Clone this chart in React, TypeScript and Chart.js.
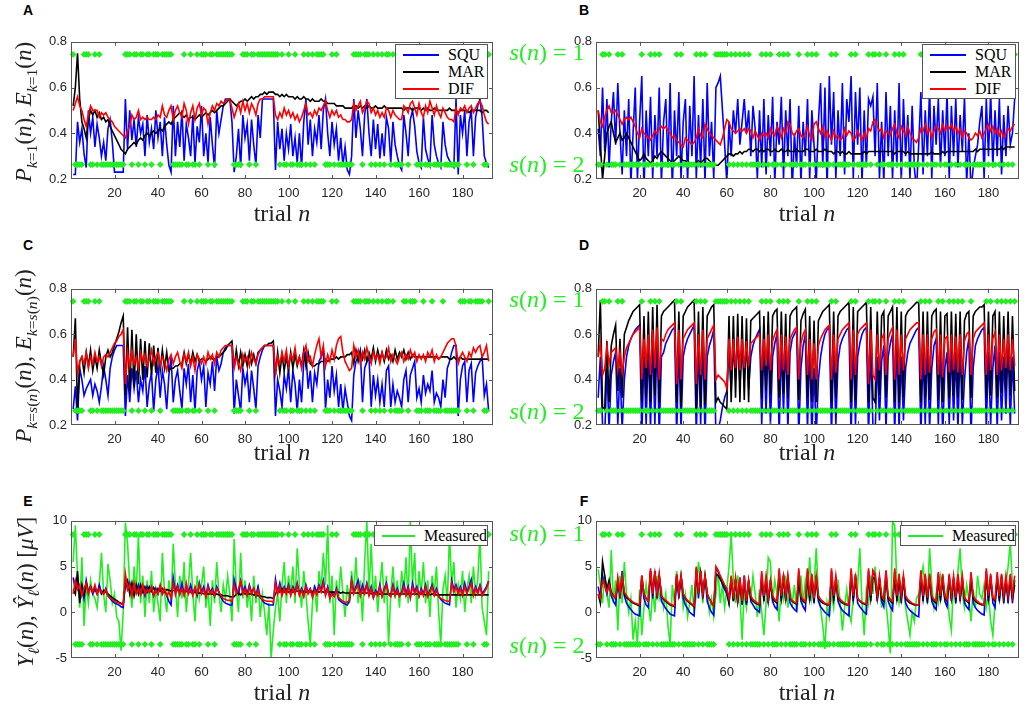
import { useEffect, useRef } from "react";
import Chart from "chart.js/auto";

// trial-by-trial stimulus state s(n): 1 = upper diamonds, 2 = lower diamonds
const sLeft = [
  1,2,2,2,2,1,1,1,2,2, 1,2,1,2,2,2,2,2,2,2, 2,2,2,2,1,1,1,2,1,1, 2,1,1,2,1,1,2,1,1,1,
  2,1,1,1,1,1,2,2,2,2, 2,1,2,2,1,2,2,1,2,1, 1,1,2,1,1,2,1,1,1,1, 1,1,1,1,2,2,2,2,1,1,
  1,2,1,1,2,1,1,1,1,1, 1,1,1,1,1,2,1,2,2,1, 2,2,1,2,2,2,1,2,1,2, 1,2,1,1,1,1,2,2,2,1,
  2,1,2,2,2,2,2,2,2,1, 1,1,1,2,1,1,1,2,1,2, 1,2,1,2,1,1,2,1,2,2, 2,2,1,1,2,1,1,1,2,2,
  2,1,2,2,2,1,2,2,2,2, 1,2,2,2,2,2,2,2,1,1, 1,2,1,1,2,1,1,1,1,2, 2,1];
const sRight = [
  2,2,1,1,2,1,2,2,2,1, 2,1,2,2,2,2,2,2,2,2, 1,2,2,2,1,2,1,2,1,2, 2,2,2,2,2,2,1,2,1,2,
  2,2,2,2,2,1,2,1,2,1, 2,2,2,2,1,1,1,1,1,1, 2,1,2,1,2,1,2,1,2,1, 2,2,2,2,2,1,2,1,2,1,
  2,2,2,1,2,1,2,1,2,2, 2,2,1,2,2,2,1,2,1,2, 1,2,2,2,2,2,2,1,2,1, 2,2,2,2,2,2,1,2,1,2,
  2,2,2,2,1,2,1,1,2,1, 2,2,1,2,2,2,1,2,1,2, 1,2,2,2,2,2,2,2,1,2, 1,2,1,2,2,2,1,2,1,2,
  2,1,2,1,2,1,2,1,2,2, 2,1,2,2,2,2,2,2,1,2, 1,2,2,1,2,1,2,1,2,1, 2,1];

// A: P_{k=1}(n), E_{k=1}(n)
const aSqu = [
  .22,.22,.45,.36,.42,.31,.25,.50,.40,.47, .34,.44,.38,.30,.36,.28,.42,.46,.36,.23,
  .23,.23,.23,.23,.55,.33,.50,.37,.46,.34, .47,.40,.44,.30,.48,.36,.42,.33,.50,.38,
  .45,.30,.47,.35,.26,.23,.52,.30,.45,.34, .50,.28,.44,.38,.30,.48,.27,.43,.36,.52,
  .30,.40,.27,.47,.35,.25,.50,.40,.46,.52, .55,.55,.55,.45,.23,.30,.42,.25,.48,.38,
  .44,.28,.46,.35,.26,.48,.38,.55,.55,.55, .55,.55,.55,.24,.45,.33,.42,.28,.40,.33,
  .44,.30,.38,.27,.40,.25,.45,.55,.35,.46, .30,.42,.36,.48,.33,.50,.55,.40,.30,.45,
  .35,.42,.28,.38,.26,.34,.24,.22,.30,.55, .38,.50,.42,.30,.48,.55,.40,.30,.46,.33,
  .44,.29,.40,.30,.47,.42,.27,.45,.35,.30, .26,.24,.48,.40,.30,.46,.50,.43,.32,.27,
  .25,.47,.33,.29,.26,.48,.35,.30,.27,.25, .45,.35,.30,.28,.26,.25,.55,.22,.48,.40,
  .50,.30,.45,.50,.30,.47,.52,.55,.47,.30, .27,.25];
const aMar = [
  .52,.60,.75,.55,.45,.42,.38,.46,.50,.48, .50,.47,.49,.46,.47,.45,.46,.43,.41,.39,
  .37,.35,.33,.32,.31,.33,.34,.35,.36,.35, .37,.38,.37,.39,.40,.39,.40,.41,.40,.41,
  .42,.41,.43,.44,.45,.44,.46,.47,.48,.49, .48,.47,.48,.46,.47,.47,.46,.47,.48,.47,
  .48,.49,.48,.49,.50,.49,.50,.51,.52,.52, .53,.54,.55,.54,.53,.52,.53,.54,.54,.55,
  .54,.55,.56,.55,.56,.56,.57,.57,.58,.57, .58,.58,.58,.57,.57,.56,.57,.56,.57,.56,
  .56,.56,.55,.56,.55,.55,.56,.55,.55,.54, .55,.54,.54,.54,.55,.54,.54,.53,.53,.53,
  .53,.52,.52,.52,.52,.51,.51,.51,.51,.52, .52,.51,.52,.51,.52,.51,.52,.51,.51,.52,
  .51,.51,.51,.52,.51,.51,.51,.51,.51,.51, .51,.51,.50,.51,.51,.51,.50,.51,.51,.51,
  .50,.51,.50,.51,.50,.50,.51,.50,.50,.50, .50,.50,.50,.51,.50,.50,.50,.49,.50,.50,
  .50,.50,.49,.50,.50,.50,.50,.50,.49,.50, .50,.49];
const aDif = [
  .50,.53,.56,.52,.50,.46,.43,.48,.52,.50, .50,.50,.47,.49,.48,.49,.47,.46,.45,.43,
  .42,.41,.40,.39,.38,.41,.43,.48,.46,.47, .50,.46,.47,.46,.47,.46,.46,.47,.46,.48,
  .47,.52,.48,.47,.50,.52,.46,.50,.52,.49, .47,.53,.50,.44,.49,.52,.46,.51,.53,.48,
  .51,.50,.44,.49,.52,.50,.53,.52,.54,.53, .54,.55,.55,.51,.47,.50,.53,.49,.54,.50,
  .53,.49,.53,.51,.48,.53,.55,.55,.56,.56, .56,.56,.56,.48,.46,.49,.47,.51,.48,.50,
  .47,.49,.46,.48,.45,.47,.50,.53,.48,.49, .47,.50,.48,.51,.50,.52,.54,.50,.47,.50,
  .48,.50,.47,.48,.46,.46,.45,.45,.46,.53, .50,.52,.54,.49,.51,.54,.53,.49,.51,.48,
  .50,.47,.49,.47,.51,.50,.47,.50,.48,.47, .46,.46,.52,.51,.49,.53,.54,.51,.48,.53,
  .49,.47,.52,.49,.54,.51,.48,.52,.49,.47, .51,.49,.47,.46,.46,.45,.51,.48,.51,.50,
  .52,.49,.51,.52,.49,.51,.53,.54,.52,.48, .45,.44];

// B
const bSqu = [
  .42,.30,.60,.32,.55,.25,.45,.58,.35,.62, .40,.22,.50,.30,.55,.18,.40,.60,.20,.45,
  .65,.15,.50,.30,.56,.20,.48,.30,.60,.18, .45,.55,.25,.62,.15,.50,.30,.58,.20,.45,
  .55,.18,.52,.30,.65,.20,.48,.25,.55,.18, .62,.30,.45,.20,.60,.62,.65,.50,.35,.18,
  .45,.30,.50,.40,.55,.35,.45,.55,.40,.50, .30,.52,.42,.20,.50,.25,.55,.22,.48,.30,
  .56,.18,.45,.35,.56,.20,.50,.30,.55,.15, .40,.25,.52,.18,.45,.30,.55,.20,.50,.35,
  .18,.45,.62,.25,.60,.15,.65,.35,.58,.20, .50,.30,.62,.22,.55,.45,.65,.20,.58,.35,
  .60,.18,.50,.25,.55,.52,.56,.30,.62,.20, .45,.18,.58,.30,.52,.20,.50,.25,.62,.18,
  .55,.30,.48,.20,.52,.25,.15,.35,.58,.22, .50,.30,.60,.20,.52,.35,.55,.25,.50,.30,
  .58,.20,.52,.30,.55,.25,.48,.32,.56,.18, .40,.15,.25,.30,.35,.45,.52,.20,.55,.30,
  .58,.25,.50,.30,.55,.22,.48,.30,.52,.35, .40,.55];
const bMar = [
  .50,.35,.20,.30,.40,.43,.45,.40,.36,.38, .40,.37,.38,.40,.38,.36,.34,.32,.30,.28,
  .29,.31,.29,.28,.27,.28,.30,.29,.31,.32, .31,.30,.29,.28,.27,.28,.29,.30,.29,.28,
  .28,.27,.27,.26,.26,.27,.28,.27,.28,.29, .29,.28,.27,.27,.26,.26,.27,.28,.29,.30,
  .31,.31,.30,.31,.31,.32,.31,.32,.32,.33, .33,.32,.33,.33,.32,.33,.32,.33,.33,.32,
  .32,.33,.32,.32,.33,.32,.32,.33,.32,.32, .32,.33,.32,.32,.32,.33,.33,.32,.32,.32,
  .33,.32,.32,.32,.33,.32,.32,.32,.31,.32, .32,.31,.32,.31,.31,.32,.31,.31,.31,.31,
  .31,.31,.32,.31,.32,.32,.32,.32,.32,.32, .32,.32,.32,.32,.32,.32,.31,.32,.32,.32,
  .32,.31,.32,.31,.31,.31,.31,.31,.31,.31, .31,.31,.31,.32,.31,.31,.31,.31,.32,.31,
  .32,.32,.32,.32,.32,.32,.32,.32,.32,.32, .32,.32,.32,.33,.32,.33,.33,.33,.33,.33,
  .33,.33,.33,.33,.33,.34,.33,.34,.34,.34, .34,.34];
const bDif = [
  .50,.45,.43,.47,.50,.52,.49,.49,.50,.48, .46,.44,.46,.47,.46,.47,.45,.43,.40,.38,
  .42,.40,.39,.38,.37,.39,.41,.40,.42,.43, .42,.43,.41,.40,.38,.39,.37,.36,.35,.34,
  .38,.37,.36,.35,.36,.38,.42,.39,.38,.44, .42,.40,.39,.38,.37,.36,.35,.38,.42,.46,
  .45,.42,.41,.40,.41,.42,.41,.42,.40,.42, .41,.38,.41,.39,.37,.40,.39,.40,.38,.42,
  .40,.39,.43,.41,.38,.42,.40,.45,.44,.40, .39,.41,.42,.39,.38,.40,.43,.39,.37,.44,
  .45,.42,.40,.43,.38,.41,.39,.37,.41,.38, .39,.37,.38,.42,.39,.41,.40,.37,.38,.41,
  .39,.37,.40,.38,.42,.41,.45,.46,.43,.41, .42,.38,.41,.40,.39,.42,.44,.40,.38,.43,
  .41,.39,.43,.40,.38,.37,.36,.38,.42,.41, .44,.40,.42,.38,.41,.43,.42,.40,.44,.41,
  .43,.42,.44,.41,.43,.40,.42,.38,.41,.40, .38,.37,.38,.40,.39,.41,.38,.40,.42,.44,
  .41,.43,.40,.42,.39,.41,.38,.40,.42,.41, .43,.44];

// C: P_{k=s(n)}(n), E_{k=s(n)}(n)
const cSqu = [
  .27,.37,.22,.45,.40,.33,.36,.38,.40,.33, .38,.35,.30,.37,.46,.40,.33,.45,.50,.53,
  .55,.55,.55,.55,.24,.42,.30,.45,.36,.44, .30,.40,.35,.46,.28,.38,.43,.26,.40,.46,
  .32,.44,.38,.27,.42,.50,.30,.40,.44,.35, .27,.45,.38,.47,.30,.42,.26,.44,.48,.40,
  .46,.28,.43,.38,.48,.35,.50,.44,.47,.52, .54,.55,.55,.55,.25,.40,.33,.26,.45,.38,
  .43,.30,.44,.36,.27,.46,.50,.53,.55,.55, .55,.55,.55,.24,.40,.35,.28,.42,.36,.45,
  .30,.44,.38,.26,.40,.30,.48,.52,.36,.44, .30,.43,.38,.48,.50,.53,.27,.40,.32,.46,
  .35,.42,.28,.38,.26,.36,.30,.24,.22,.42, .48,.50,.53,.30,.45,.48,.50,.28,.42,.33,
  .40,.30,.38,.28,.44,.46,.28,.38,.30,.35, .32,.28,.40,.44,.30,.42,.45,.48,.32,.36,
  .30,.42,.34,.38,.35,.44,.30,.34,.32,.28, .40,.32,.45,.48,.52,.55,.55,.24,.40,.46,
  .48,.30,.44,.47,.30,.43,.46,.48,.50,.33, .38,.26];
const cMar = [
  .50,.67,.26,.48,.50,.43,.52,.46,.53,.44, .50,.45,.53,.47,.42,.50,.53,.50,.52,.55,
  .58,.61,.65,.68,.33,.63,.35,.62,.37,.60, .38,.58,.40,.57,.41,.56,.42,.55,.43,.54,
  .44,.53,.45,.52,.44,.45,.45,.46,.46,.47, .47,.52,.47,.51,.47,.52,.48,.51,.48,.49,
  .49,.48,.49,.50,.49,.49,.50,.50,.51,.52, .53,.55,.56,.57,.45,.53,.46,.52,.46,.51,
  .46,.52,.47,.51,.47,.52,.53,.54,.55,.55, .56,.56,.57,.42,.52,.43,.51,.44,.50,.44,
  .52,.45,.51,.46,.50,.46,.53,.46,.52,.47, .46,.46,.47,.47,.48,.48,.49,.48,.49,.49,
  .49,.50,.49,.50,.50,.50,.51,.51,.52,.47, .53,.48,.52,.49,.53,.48,.52,.49,.54,.48,
  .53,.49,.52,.48,.53,.49,.51,.48,.53,.49, .52,.50,.53,.49,.52,.49,.51,.50,.50,.50,
  .50,.50,.50,.50,.50,.50,.50,.50,.49,.50, .50,.50,.50,.49,.49,.50,.49,.49,.50,.49,
  .49,.49,.49,.49,.49,.49,.49,.49,.49,.49, .49,.49];
const cDif = [
  .50,.58,.43,.48,.50,.47,.52,.45,.50,.47, .52,.48,.50,.46,.50,.51,.50,.52,.54,.56,
  .57,.59,.60,.62,.38,.52,.46,.53,.47,.50, .45,.52,.48,.51,.46,.49,.53,.47,.50,.52,
  .46,.50,.48,.44,.49,.51,.47,.50,.52,.48, .45,.51,.48,.52,.46,.50,.44,.51,.49,.47,
  .50,.47,.52,.49,.51,.47,.52,.50,.53,.54, .55,.55,.55,.55,.45,.50,.47,.44,.51,.48,
  .50,.46,.52,.49,.47,.51,.53,.54,.55,.55, .55,.55,.55,.43,.50,.47,.52,.48,.53,.46,
  .51,.49,.54,.47,.50,.45,.52,.55,.48,.50, .46,.51,.55,.58,.50,.55,.46,.51,.48,.53,
  .49,.55,.58,.59,.52,.48,.46,.44,.45,.55, .50,.53,.47,.52,.49,.54,.50,.47,.52,.49,
  .51,.47,.52,.49,.50,.54,.48,.51,.49,.47, .50,.52,.48,.51,.49,.53,.50,.52,.48,.51,
  .49,.51,.48,.52,.50,.53,.48,.51,.49,.50, .52,.54,.56,.57,.58,.58,.55,.47,.50,.52,
  .50,.48,.52,.50,.54,.52,.54,.55,.50,.52, .55,.48];

// D
const dSqu = [
  .32,.50,.20,.15,.45,.18,.42,.48,.52,.20, .45,.18,.40,.50,.55,.58,.60,.62,.63,.64,
  .15,.50,.20,.55,.18,.58,.20,.60,.15,.50, .52,.56,.58,.60,.62,.63,.15,.56,.18,.50,
  .55,.58,.60,.62,.64,.15,.55,.20,.58,.15, .50,.55,.58,.62,.15,.18,.22,.28,.32,.35,
  .55,.35,.55,.40,.58,.38,.55,.40,.56,.36, .50,.55,.58,.60,.62,.20,.55,.25,.58,.20,
  .50,.56,.60,.15,.55,.25,.58,.18,.52,.58, .60,.62,.15,.45,.55,.60,.18,.55,.15,.45,
  .15,.40,.50,.56,.60,.62,.63,.15,.55,.20, .48,.55,.58,.60,.62,.63,.15,.56,.20,.50,
  .56,.60,.62,.63,.15,.55,.20,.15,.50,.22, .48,.55,.18,.50,.56,.60,.15,.58,.18,.50,
  .22,.45,.52,.56,.58,.60,.62,.63,.15,.52, .20,.55,.18,.45,.55,.58,.20,.55,.15,.45,
  .52,.20,.55,.22,.52,.18,.55,.20,.40,.52, .58,.15,.45,.55,.58,.60,.62,.63,.18,.52,
  .20,.45,.55,.18,.52,.22,.50,.25,.55,.20, .50,.25];
const dMar = [
  .50,.75,.28,.27,.57,.30,.55,.60,.64,.35, .58,.32,.60,.63,.66,.68,.70,.71,.72,.73,
  .30,.68,.32,.70,.30,.72,.33,.73,.30,.68, .70,.71,.72,.73,.74,.75,.30,.70,.28,.68,
  .70,.72,.73,.74,.75,.27,.70,.28,.72,.29, .68,.70,.72,.73,.30,.32,.30,.29,.28,.27,
  .68,.30,.68,.32,.69,.30,.68,.31,.67,.30, .66,.67,.68,.69,.70,.32,.68,.35,.70,.33,
  .68,.70,.71,.32,.70,.34,.69,.32,.68,.70, .71,.72,.31,.66,.69,.71,.32,.68,.30,.66,
  .30,.66,.68,.70,.71,.72,.73,.30,.70,.32, .68,.70,.71,.72,.73,.74,.30,.72,.31,.70,
  .71,.72,.73,.74,.30,.72,.32,.30,.70,.33, .68,.70,.32,.68,.70,.72,.30,.72,.30,.70,
  .32,.68,.70,.71,.72,.73,.74,.74,.30,.70, .32,.70,.31,.68,.70,.71,.31,.70,.30,.68,
  .69,.32,.70,.33,.69,.32,.70,.31,.66,.69, .70,.32,.68,.70,.71,.72,.72,.73,.32,.70,
  .33,.68,.70,.32,.70,.34,.68,.35,.70,.33, .68,.35];
const dDif = [
  .50,.56,.42,.45,.55,.47,.52,.53,.54,.44, .52,.43,.50,.54,.56,.58,.60,.61,.62,.63,
  .40,.58,.45,.60,.42,.62,.45,.63,.40,.58, .57,.60,.62,.63,.64,.65,.38,.62,.40,.58,
  .60,.62,.63,.64,.65,.38,.60,.42,.62,.40, .58,.60,.62,.64,.40,.42,.41,.40,.39,.36,
  .58,.44,.58,.45,.59,.44,.58,.45,.57,.46, .56,.57,.58,.59,.60,.44,.58,.46,.60,.44,
  .57,.60,.62,.40,.60,.44,.59,.42,.58,.60, .62,.63,.40,.56,.60,.62,.42,.58,.40,.56,
  .40,.55,.58,.60,.62,.63,.64,.40,.60,.43, .58,.60,.62,.63,.64,.65,.40,.62,.42,.60,
  .62,.63,.64,.65,.38,.62,.42,.40,.60,.44, .58,.60,.42,.58,.61,.63,.40,.62,.42,.60,
  .44,.58,.60,.62,.63,.64,.65,.65,.40,.60, .42,.60,.43,.58,.61,.62,.42,.60,.41,.58,
  .59,.43,.60,.44,.59,.43,.60,.42,.57,.60, .61,.42,.58,.61,.62,.63,.64,.65,.42,.60,
  .44,.58,.61,.42,.60,.44,.58,.45,.60,.44, .58,.46];

// E: measured and modelled amplitude, left subject [µV]
const eMeas = [
  5.5,9.5,4.0,0.5,6.0,-1.5,3.0,1.0,3.5,2.0, 1.5,0.5,3.0,6.5,2.0,0.0,5.3,3.5,1.0,2.0,
  -0.5,-1.0,-4.2,0.0,9.8,7.5,3.0,0.5,5.0,2.0, 8.5,1.0,4.0,-0.5,3.5,1.0,4.5,0.0,2.5,1.0,
  -1.0,6.5,2.0,0.0,3.5,1.0,7.5,3.0,-0.5,4.0, 1.5,5.5,0.0,3.0,6.5,2.0,-1.0,4.0,1.5,3.0,
  5.0,0.5,2.5,-1.5,3.5,1.0,5.5,2.0,0.0,3.0, 1.5,4.0,2.0,-1.0,8.0,2.5,0.0,6.5,1.5,3.5,
  0.5,2.5,-1.0,4.0,1.0,3.0,-0.5,2.0,0.0,-2.5, 1.0,-5.0,-2.0,0.5,2.0,-1.0,3.0,5.5,1.0,4.0,
  2.0,5.0,1.0,7.0,3.0,0.5,4.5,2.0,-1.0,-3.5, 1.0,3.0,0.0,4.5,2.5,6.5,3.0,9.5,1.0,4.0,
  -2.5,3.5,1.5,5.0,2.0,-0.5,3.0,1.0,4.5,2.0, 6.0,1.0,3.5,-1.0,5.5,10.0,2.0,7.5,1.5,4.0,
  0.0,3.0,5.5,1.0,4.0,-3.5,2.0,5.0,1.5,3.5, 0.5,4.5,2.0,6.0,1.0,10.0,3.0,6.5,0.0,4.5,
  2.0,5.5,1.0,3.5,-0.5,4.0,2.0,5.0,0.0,-3.5, 2.5,4.0,1.0,8.5,3.0,5.5,0.5,3.0,1.5,4.5,
  0.0,2.5,4.0,1.0,5.0,2.0,3.5,8.5,0.5,-1.0, -2.5,4.5];
const eSqu = [
  3.8,2.5,3.0,2.0,2.8,1.5,3.5,2.2,2.8,2.0, 2.5,2.0,3.0,2.2,2.0,2.6,1.8,1.5,1.2,1.0,
  0.9,0.8,0.6,0.5,3.5,2.5,3.2,2.0,2.8,2.2, 3.0,2.0,2.6,1.8,2.8,2.2,2.5,1.8,2.6,2.0,
  2.8,2.0,2.5,1.8,1.2,0.8,3.8,2.2,3.0,2.0, 3.2,2.0,2.8,2.2,3.0,2.0,2.6,1.8,3.2,2.2,
  2.8,1.8,3.0,2.2,2.6,1.8,2.8,2.2,1.6,1.2, 1.0,0.9,0.8,0.8,3.6,2.5,2.0,3.4,2.2,2.8,
  2.0,3.0,2.2,2.6,1.8,2.8,1.6,1.3,1.0,0.9, 0.8,0.8,0.8,3.6,2.2,3.2,2.0,2.8,2.2,3.0,
  2.0,2.8,2.2,3.2,2.0,2.6,1.8,3.0,2.2,2.6, 1.8,2.8,2.2,3.0,2.4,3.5,2.0,2.8,1.6,2.2,
  1.8,2.6,1.4,1.2,1.0,0.9,0.8,1.2,3.5,2.2, 2.8,3.5,2.0,3.0,2.2,3.2,2.0,2.8,1.6,2.4,
  2.0,3.0,1.8,2.6,3.2,2.0,1.8,3.0,2.0,2.6, 1.8,2.2,3.2,2.0,2.8,1.6,3.2,2.2,2.8,1.8,
  2.6,2.0,3.0,1.8,2.4,3.0,2.0,2.6,1.8,1.4, 1.2,1.0,0.9,0.8,3.5,2.5,3.0,2.2,2.8,2.0,
  3.2,2.2,2.8,3.6,2.0,2.8,2.2,3.0,2.0,2.4, 2.8,3.4];
const eMar = [
  2.5,2.0,4.5,1.0,3.0,2.0,3.2,2.2,2.8,2.2, 2.8,2.2,2.6,2.0,2.4,2.2,2.0,1.8,1.6,1.4,
  1.3,1.1,1.0,0.9,3.0,3.5,2.0,3.2,1.8,3.0, 2.0,3.0,2.2,2.8,2.2,2.8,2.3,2.7,2.2,2.6,
  2.3,2.6,2.2,2.5,2.4,2.3,2.4,2.3,2.4,2.3, 2.3,2.2,2.3,2.2,2.2,2.1,2.2,2.1,2.1,2.1,
  2.0,2.1,2.0,2.0,2.0,1.9,2.0,1.9,1.9,1.8, 1.8,1.8,1.7,1.7,1.7,2.0,2.1,1.9,2.2,2.0,
  2.1,2.0,2.0,1.9,1.9,1.8,1.8,1.7,1.7,1.6, 1.6,1.6,1.5,2.0,2.5,2.2,2.6,2.2,2.5,2.2,
  2.4,2.2,2.4,2.3,2.3,2.2,2.3,2.2,2.3,2.2, 2.3,2.3,2.3,2.2,2.3,2.2,2.2,2.2,2.2,2.2,
  2.2,2.2,2.2,2.1,2.2,2.1,2.1,2.1,2.1,2.1, 2.1,2.1,2.1,2.1,2.1,2.1,2.1,2.0,2.1,2.0,
  2.0,2.0,2.0,2.0,2.0,2.0,2.0,2.0,2.0,2.0, 2.0,2.0,2.0,2.0,2.0,2.0,2.0,2.0,2.0,2.0,
  2.0,2.0,1.9,2.0,1.9,2.0,1.9,1.9,1.9,1.9, 1.9,1.9,1.9,1.9,1.9,1.9,1.9,1.9,1.9,1.9,
  1.9,1.9,1.9,1.9,1.9,1.9,1.9,1.9,1.9,1.9, 1.9,1.9];
const eDif = [
  2.0,3.5,2.5,3.0,1.8,2.6,3.2,2.0,2.8,2.2, 3.0,2.0,2.6,2.2,2.0,2.5,1.8,1.6,1.4,1.2,
  1.1,1.0,0.9,0.8,4.2,2.5,3.0,1.8,3.2,2.0, 2.6,1.9,3.0,2.0,2.5,2.2,2.8,1.8,2.4,2.0,
  3.0,2.0,2.6,1.8,2.2,1.6,3.2,1.9,2.8,2.0, 2.6,1.8,3.2,2.0,2.5,1.8,2.8,2.0,3.0,2.0,
  2.5,1.7,2.8,2.0,2.4,1.8,2.6,2.2,1.8,1.5, 1.4,1.3,1.3,1.2,3.0,2.0,2.6,3.4,2.0,2.5,
  1.8,2.8,2.0,2.6,1.8,2.4,1.6,1.4,1.3,1.2, 1.2,1.2,1.1,3.2,2.0,2.8,1.8,2.6,2.0,2.8,
  1.8,2.6,2.0,3.0,1.8,2.4,1.7,2.8,2.0,2.5, 1.6,2.4,1.9,2.8,2.2,3.2,1.8,2.6,1.5,2.0,
  1.7,2.4,1.6,1.4,1.2,1.1,1.1,1.3,3.4,2.0, 2.6,3.0,1.8,2.6,2.0,3.0,1.8,2.6,1.6,2.2,
  1.8,2.8,1.7,2.4,3.0,1.9,1.7,2.8,1.8,2.4, 1.7,2.0,2.8,1.8,2.6,1.6,2.8,2.0,2.6,1.7,
  2.4,1.8,2.8,1.7,2.2,2.8,1.8,2.4,1.7,1.5, 1.4,1.3,1.2,1.2,3.2,2.2,2.8,2.0,2.6,1.8,
  2.8,2.0,2.6,3.2,1.8,2.6,2.0,2.8,1.8,2.2, 2.6,3.4];

// F: right subject [µV]
const fMeas = [
  4.7,3.0,1.0,4.0,2.0,0.5,6.8,1.0,3.5,-2.0, 4.0,1.0,5.5,2.0,0.0,1.5,-3.0,-1.0,-3.5,2.5,
  -2.5,0.5,3.0,1.0,-1.0,2.5,0.0,4.0,1.5,2.5, 0.5,2.0,-1.5,-3.5,3.0,1.0,4.5,2.0,3.5,0.5,
  2.0,-0.5,1.0,3.0,0.0,2.0,5.5,3.5,1.0,4.0, 2.5,0.0,1.5,-0.5,2.0,4.5,1.0,3.0,0.5,2.5,
  5.0,8.5,3.5,1.0,4.0,2.0,-3.0,2.5,0.5,3.0, 1.5,4.0,2.0,-0.5,2.5,0.0,-2.5,1.0,6.0,5.5,
  1.0,3.5,2.0,-1.0,3.0,1.5,4.0,0.5,2.5,1.0, 3.0,0.0,2.0,4.0,1.0,3.5,2.0,6.0,1.5,3.0,
  7.0,2.0,0.5,-1.5,-4.0,1.0,-0.5,2.0,0.5,3.5, 3.5,1.0,-2.0,0.5,2.5,0.0,-1.0,1.5,4.0,3.0,
  7.0,1.0,-2.5,2.5,1.0,4.0,2.0,5.0,1.5,3.5, 0.5,2.5,1.0,-1.5,-4.5,10.0,9.5,3.0,1.0,2.5,
  4.0,0.5,-1.0,-2.5,0.0,-1.0,1.5,2.0,3.5,5.0, 2.5,1.0,7.0,3.0,0.5,2.0,1.0,4.0,3.0,1.5,
  2.5,-0.5,-2.0,3.5,1.0,4.5,7.0,2.0,0.5,3.0, 1.5,-1.0,2.5,0.5,4.0,2.0,1.5,3.0,0.5,2.0,
  -1.0,-2.5,1.0,3.5,2.0,4.0,1.0,3.0,5.0,7.5, 3.0,3.5];
const fSqu = [
  2.8,1.5,4.0,3.0,2.0,3.2,1.8,1.2,0.8,3.5, 1.5,4.5,1.8,1.0,0.6,0.3,0.0,-0.2,-0.3,-0.4,
  3.5,1.5,0.8,0.5,4.5,1.5,4.5,1.5,4.0,1.2, 0.8,0.4,0.1,-0.2,-0.3,-0.4,4.0,1.5,4.0,1.5,
  0.8,0.4,0.0,-0.2,-0.4,4.8,1.5,4.5,1.5,4.0, 1.2,0.5,0.0,-0.3,4.8,4.5,3.8,3.0,2.5,2.0,
  1.0,3.8,1.2,3.6,1.0,3.8,0.8,4.0,0.8,3.5, 1.2,0.8,0.4,0.2,0.0,4.2,1.2,3.8,1.0,3.5,
  1.2,0.6,0.3,4.5,1.2,4.0,1.2,3.8,1.0,0.6, 0.3,0.1,4.5,1.2,0.6,0.2,4.5,1.2,4.0,1.0,
  4.0,1.2,0.6,0.3,0.0,-0.2,-0.4,4.5,1.2,3.8, 1.2,0.6,0.2,0.0,-0.2,-0.4,4.5,1.2,4.0,1.0,
  0.6,0.3,0.0,-0.2,4.5,1.2,4.5,4.0,1.2,3.8, 1.2,0.6,4.5,1.2,0.6,0.2,4.5,1.2,4.0,1.0,
  3.8,1.0,0.5,0.2,0.0,-0.2,-0.4,-0.5,4.5,1.2, 4.0,1.0,4.0,1.2,0.6,0.3,4.2,1.2,4.0,1.2,
  0.6,4.0,1.2,3.8,1.0,4.0,1.2,3.8,1.0,0.6, 0.3,4.2,1.0,0.5,0.2,0.0,-0.2,-0.3,4.5,1.2,
  4.0,1.0,0.5,4.0,1.2,4.0,1.0,3.8,1.0,4.0, 1.0,3.5];
const fMar = [
  2.0,1.0,5.5,4.0,2.5,3.5,2.2,1.8,1.5,3.2, 2.0,3.6,2.0,1.6,1.4,1.2,1.0,0.9,0.8,0.7,
  4.0,2.0,1.5,1.2,4.5,2.2,4.2,2.0,4.0,1.8, 1.4,1.2,1.0,0.8,0.7,0.6,4.0,2.0,4.0,2.0,
  1.5,1.2,1.0,0.8,0.6,4.5,2.0,4.3,2.0,4.0, 2.0,1.5,1.0,0.7,4.2,4.0,3.6,3.2,2.8,2.4,
  1.0,3.8,1.2,3.6,1.2,3.5,1.0,3.6,1.0,3.4, 1.5,1.2,1.0,0.9,0.8,3.5,1.5,3.5,1.2,3.2,
  1.5,1.2,1.0,3.8,1.5,3.8,1.5,3.8,1.5,1.2, 1.0,0.9,3.5,1.5,1.2,1.0,3.8,1.5,3.6,1.5,
  3.5,1.5,1.2,1.0,0.9,0.8,0.8,3.8,1.5,3.5, 1.5,1.2,1.0,0.9,0.8,0.8,3.8,1.5,3.6,1.5,
  1.2,1.0,0.9,0.8,3.8,1.5,3.8,3.6,1.5,3.5, 1.5,1.2,3.8,1.5,1.2,1.0,3.8,1.5,3.6,1.5,
  3.6,1.5,1.2,1.0,0.9,0.8,0.8,0.8,3.8,1.5, 3.6,1.5,3.6,1.5,1.2,1.0,3.5,1.5,3.5,1.5,
  1.2,3.5,1.5,3.5,1.5,3.5,1.5,3.5,1.5,1.2, 1.0,3.6,1.5,1.2,1.0,0.9,0.8,0.8,3.8,1.5,
  3.6,1.5,1.2,3.6,1.5,3.5,1.5,3.5,1.5,3.5, 1.5,3.0];
const fDif = [
  2.0,1.5,3.5,3.0,2.2,3.0,2.0,1.8,1.6,3.8, 2.0,4.0,2.2,1.8,1.5,1.3,1.1,1.0,0.9,0.8,
  4.0,2.0,1.5,1.2,4.8,2.0,4.5,2.0,4.2,1.8, 1.5,1.3,1.1,0.9,0.8,0.7,4.2,2.0,4.0,2.0,
  1.6,1.3,1.1,0.9,0.7,5.0,2.0,4.5,2.0,4.0, 2.0,1.5,1.0,0.7,5.0,4.6,4.0,3.5,3.0,2.6,
  1.5,4.0,1.5,3.8,1.5,3.8,1.2,4.0,1.2,3.5, 1.8,1.4,1.2,1.0,0.9,4.5,1.8,4.0,1.5,3.5,
  1.8,1.4,1.2,4.8,1.8,4.2,1.8,4.0,1.6,1.3, 1.1,1.0,4.8,1.8,1.4,1.2,4.8,1.8,4.2,1.5,
  4.0,1.8,1.4,1.2,1.0,0.9,0.8,4.8,1.8,4.0, 1.8,1.4,1.2,1.0,0.9,0.8,4.8,1.8,4.2,1.5,
  1.3,1.1,1.0,0.9,4.8,1.8,4.6,4.2,1.8,4.0, 1.8,1.4,4.6,1.8,1.4,1.2,4.8,1.8,4.2,1.8,
  4.0,1.8,1.4,1.2,1.0,0.9,0.8,0.8,4.6,1.8, 4.2,1.6,4.2,1.8,1.4,1.2,4.4,1.8,4.2,1.8,
  1.4,4.2,1.8,4.0,1.6,4.2,1.8,4.0,1.6,1.3, 1.2,4.4,1.8,1.4,1.2,1.0,0.9,0.8,4.8,1.8,
  4.2,1.6,1.4,4.4,1.8,4.2,1.8,4.0,1.8,4.2, 1.8,4.0];

const xTicks = [20, 40, 60, 80, 100, 120, 140, 160, 180];
const probTicks = [0.2, 0.4, 0.6, 0.8];
const voltTicks = [-5, 0, 5, 10];

const SERIF = '"Liberation Serif","DejaVu Serif",serif';
const SANS = '"Liberation Sans",Arial,sans-serif';
const GREEN = "#22ee22";
const BLUE = "#0000ff";
const RED = "#ff0000";
const BLACK = "#000000";

const YW = 50, XH = 28, PT = 10, PR = 6;

const framePlugin = {
  id: "frame",
  afterDatasetsDraw(chart: any) {
    const { ctx, chartArea: a, scales } = chart;
    ctx.save();
    ctx.strokeStyle = "#555";
    ctx.lineWidth = 1;
    ctx.strokeRect(Math.round(a.left) + 0.5, Math.round(a.top) + 0.5, Math.round(a.right - a.left) - 1, Math.round(a.bottom - a.top) - 1);
    ctx.beginPath();
    for (const t of scales.x.ticks) {
      const px = Math.round(scales.x.getPixelForValue(t.value)) + 0.5;
      if (px < a.left + 2 || px > a.right - 2) continue;
      ctx.moveTo(px, a.bottom); ctx.lineTo(px, a.bottom - 4);
      ctx.moveTo(px, a.top); ctx.lineTo(px, a.top + 4);
    }
    for (const t of scales.y.ticks) {
      const py = Math.round(scales.y.getPixelForValue(t.value)) + 0.5;
      if (py < a.top + 2 || py > a.bottom - 2) continue;
      ctx.moveTo(a.left, py); ctx.lineTo(a.left + 4, py);
      ctx.moveTo(a.right, py); ctx.lineTo(a.right - 4, py);
    }
    ctx.stroke();
    ctx.restore();
  },
};

type Line = { data: number[]; color: string };

function Panel(p: {
  left: number; top: number; w: number; h: number;
  yMin: number; yMax: number; yTicks: number[]; fmt: (v: number) => string;
  lines: Line[]; s: number[]; sTop: number; sBot: number;
}) {
  const ref = useRef<HTMLCanvasElement | null>(null);
  const W = p.w + YW + PR, H = p.h + PT + XH;
  useEffect(() => {
    if (!ref.current) return;
    const n = p.lines.length;
    const datasets: any[] = p.lines.map((l, i) => ({
      type: "line",
      data: l.data.map((v, j) => ({ x: j + 1, y: v })),
      borderColor: l.color,
      borderWidth: 1.6,
      pointRadius: 0,
      tension: 0,
      fill: false,
      clip: 0,
      order: n - i,
    }));
    datasets.push({
      type: "scatter",
      data: p.s.map((v, j) => ({ x: j + 1, y: v === 1 ? p.sTop : p.sBot })),
      pointStyle: "rectRot",
      pointRadius: 3.4,
      backgroundColor: GREEN,
      borderColor: GREEN,
      borderWidth: 0,
      showLine: false,
      clip: false,
      order: 0,
    });
    const tickFont = { family: SANS, size: 13 };
    const ch = new Chart(ref.current, {
      type: "line",
      data: { datasets },
      options: {
        animation: false,
        responsive: false,
        maintainAspectRatio: false,
        layout: { padding: { top: PT, right: PR, left: 0, bottom: 0 } },
        plugins: { legend: { display: false }, tooltip: { enabled: false } },
        scales: {
          x: {
            type: "linear", min: 0, max: 194,
            afterBuildTicks: (s: any) => { s.ticks = xTicks.map((v) => ({ value: v })); },
            afterFit: (s: any) => { s.height = XH; },
            grid: { display: false, drawTicks: false },
            border: { display: false },
            ticks: { font: tickFont, color: "#262626", padding: 7, maxRotation: 0, autoSkip: false },
          },
          y: {
            type: "linear", min: p.yMin, max: p.yMax,
            afterBuildTicks: (s: any) => { s.ticks = p.yTicks.map((v) => ({ value: v })); },
            afterFit: (s: any) => { s.width = YW; },
            grid: { display: false, drawTicks: false },
            border: { display: false },
            ticks: { font: tickFont, color: "#262626", padding: 4, callback: (v: any) => p.fmt(Number(v)) },
          },
        },
      } as any,
      plugins: [framePlugin],
    });
    return () => ch.destroy();
  }, []);
  return (
    <canvas ref={ref} width={W} height={H}
      style={{ position: "absolute", left: p.left - YW, top: p.top - PT, width: W, height: H }} />
  );
}

function Legend(p: { left: number; top: number; width: number; colors: string[]; labels: string[] }) {
  return (
    <div style={{
      position: "absolute", left: p.left, top: p.top, width: p.width,
      background: "#fff", border: "1px solid #555", boxSizing: "border-box", padding: "1px 0",
    }}>
      {p.colors.map((c, i) => (
        <div key={i} style={{ display: "flex", alignItems: "center", height: 17 }}>
          <span style={{ display: "inline-block", width: 36, height: 2, marginLeft: 7, marginRight: 9, background: c }} />
          <span style={{ fontFamily: SERIF, fontSize: 16, lineHeight: "17px", color: "#000" }}>{p.labels[i]}</span>
        </div>
      ))}
    </div>
  );
}

const abs = (x: number, y: number, extra: any = {}) => ({
  position: "absolute" as const, left: x, top: y, transform: "translate(-50%,-50%)", whiteSpace: "nowrap" as const, ...extra,
});

function YTitle(p: { x: number; y: number; children: any }) {
  return (
    <div style={abs(p.x, p.y, { transform: "translate(-50%,-50%) rotate(-90deg)", fontFamily: SERIF, fontSize: 23, color: "#222" })}>
      {p.children}
    </div>
  );
}

const sub = { fontSize: "0.68em", verticalAlign: "-0.35em" };

function Trial(p: { x: number; y: number }) {
  return (
    <div style={abs(p.x, p.y, { fontFamily: SERIF, fontSize: 24, color: "#222" })}>
      trial <i>n</i>
    </div>
  );
}

function SLabel(p: { y: number; v: number }) {
  return (
    <div style={abs(547, p.y, { fontFamily: SERIF, fontSize: 24, color: GREEN })}>
      <i>s</i>(<i>n</i>) = {p.v}
    </div>
  );
}

function Letter(p: { x: number; y: number; t: string }) {
  return <div style={abs(p.x, p.y, { fontFamily: SANS, fontWeight: "bold", fontSize: 14, color: "#000" })}>{p.t}</div>;
}

const f1 = (v: number) => v.toFixed(1);
const f0 = (v: number) => String(v);

export default function App() {
  const modelLabels = ["SQU", "MAR", "DIF"];
  const modelColors = [BLUE, BLACK, RED];
  return (
    <div style={{ position: "absolute", left: 0, top: 0, width: 1028, height: 712, background: "#fff", overflow: "hidden" }}>
      <Panel left={71} top={40} w={422} h={139} yMin={0.2} yMax={0.8} yTicks={probTicks} fmt={f1}
        lines={[{ data: aSqu, color: BLUE }, { data: aMar, color: BLACK }, { data: aDif, color: RED }]}
        s={sLeft} sTop={0.745} sBot={0.263} />
      <Panel left={596} top={40} w={423} h={139} yMin={0.2} yMax={0.8} yTicks={probTicks} fmt={f1}
        lines={[{ data: bSqu, color: BLUE }, { data: bMar, color: BLACK }, { data: bDif, color: RED }]}
        s={sRight} sTop={0.745} sBot={0.263} />
      <Panel left={71} top={287} w={422} h={138} yMin={0.2} yMax={0.8} yTicks={probTicks} fmt={f1}
        lines={[{ data: cSqu, color: BLUE }, { data: cMar, color: BLACK }, { data: cDif, color: RED }]}
        s={sLeft} sTop={0.745} sBot={0.263} />
      <Panel left={596} top={287} w={423} h={138} yMin={0.2} yMax={0.8} yTicks={probTicks} fmt={f1}
        lines={[{ data: dSqu, color: BLUE }, { data: dMar, color: BLACK }, { data: dDif, color: RED }]}
        s={sRight} sTop={0.745} sBot={0.263} />
      <Panel left={71} top={519} w={422} h={139} yMin={-5} yMax={10} yTicks={voltTicks} fmt={f0}
        lines={[{ data: eMeas, color: GREEN }, { data: eSqu, color: BLUE }, { data: eMar, color: BLACK }, { data: eDif, color: RED }]}
        s={sLeft} sTop={8.5} sBot={-3.5} />
      <Panel left={596} top={519} w={423} h={139} yMin={-5} yMax={10} yTicks={voltTicks} fmt={f0}
        lines={[{ data: fMeas, color: GREEN }, { data: fSqu, color: BLUE }, { data: fMar, color: BLACK }, { data: fDif, color: RED }]}
        s={sRight} sTop={8.5} sBot={-3.5} />

      <Legend left={395} top={44} width={93} colors={modelColors} labels={modelLabels} />
      <Legend left={922} top={44} width={94} colors={modelColors} labels={modelLabels} />
      <Legend left={374} top={525} width={114} colors={[GREEN]} labels={["Measured"]} />
      <Legend left={900} top={525} width={116} colors={[GREEN]} labels={["Measured"]} />

      <Letter x={28} y={10} t="A" />
      <Letter x={584} y={10} t="B" />
      <Letter x={28} y={245} t="C" />
      <Letter x={584} y={245} t="D" />
      <Letter x={28} y={501} t="E" />
      <Letter x={584} y={501} t="F" />

      <YTitle x={26} y={112}>
        <i>P</i><span style={sub}><i>k</i>=1</span>(<i>n</i>), <i>E</i><span style={sub}><i>k</i>=1</span>(<i>n</i>)
      </YTitle>
      <YTitle x={26} y={356}>
        <i>P</i><span style={sub}><i>k</i>=<i>s</i>(<i>n</i>)</span>(<i>n</i>), <i>E</i><span style={sub}><i>k</i>=<i>s</i>(<i>n</i>)</span>(<i>n</i>)
      </YTitle>
      <YTitle x={28} y={592}>
        <i>Y</i><span style={sub}><i>ℓ</i></span>(<i>n</i>), <i>Ŷ</i><span style={sub}><i>ℓ</i></span>(<i>n</i>) [<i>μV</i>]
      </YTitle>

      <Trial x={282} y={213} />
      <Trial x={807} y={213} />
      <Trial x={282} y={452} />
      <Trial x={807} y={452} />
      <Trial x={282} y={692} />
      <Trial x={807} y={692} />

      <SLabel y={52} v={1} />
      <SLabel y={164} v={2} />
      <SLabel y={299} v={1} />
      <SLabel y={411} v={2} />
      <SLabel y={533} v={1} />
      <SLabel y={645} v={2} />
    </div>
  );
}
